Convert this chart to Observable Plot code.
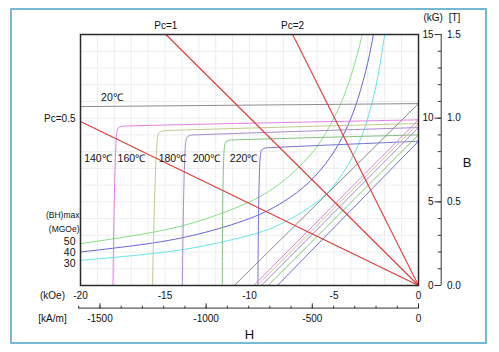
<!DOCTYPE html>
<html><head><meta charset="utf-8">
<script src="https://cdn.jsdelivr.net/npm/d3@7"></script>
<script src="https://cdn.jsdelivr.net/npm/@observablehq/plot@0.6"></script>
<style>body{margin:0;background:#fff;}</style>
</head><body><div id="chart"></div>
<script>
const K = 1000 / (4 * Math.PI); // kA/m per kOe

// ---- data ----
const tempLabels = ["20℃", "140℃", "160℃", "180℃", "200℃", "220℃"];
const brKG = [10.87, 9.90, 9.68, 9.44, 9.00, 8.62];        // B at H = 0
const hcbKOe = [-10.9, -9.75, -9.55, -9.3, -8.9, -8.35];   // normal curve reaches B = 0
const tempLabelH = [-18.14, -18.97, -16.99, -14.56, -12.55, -10.35];
const tempLabelB = [11.25, 7.58, 7.58, 7.58, 7.58, 7.58];

// intrinsic demagnetization curves (H kOe, B kG)
const j20H = [-20, 0];
const j20B = [10.69, 10.87];
const j140H = [-18.08, -17.85, -17.77, -17.55, -17.25, 0];
const j140B = [0, 9.13, 9.40, 9.51, 9.53, 9.90];
const j160H = [-15.74, -15.44, -15.36, -15.14, -14.84, 0];
const j160B = [0, 8.86, 9.13, 9.24, 9.26, 9.68];
const j180H = [-13.97, -13.77, -13.69, -13.47, -13.17, 0];
const j180B = [0, 8.60, 8.87, 8.98, 9.00, 9.44];
const j200H = [-11.61, -11.48, -11.40, -11.18, -10.88, 0];
const j200B = [0, 8.30, 8.57, 8.68, 8.70, 9.00];
const j220H = [-9.50, -9.35, -9.27, -9.05, -8.75, 0];
const j220B = [0, 7.84, 8.11, 8.22, 8.24, 8.62];

// (BH)max contours
const bhLabels = ["50", "40", "30"];
const bhLabelB = [2.62, 1.94, 1.28];
const bhHeader = ["(BH)max", "(MGOe)"];
const bhHeaderB = [4.21, 3.375];
const bh50H = [-20, -16, -13, -10, -8, -6.5, -5.5, -4.6, -4, -3.6, -3.33];
const bh50B = [2.5, 3.13, 3.85, 5, 6.25, 7.69, 9.09, 10.87, 12.5, 13.89, 15];
const bh40H = [-20, -16, -13, -10, -8, -6.5, -5.2, -4.3, -3.6, -3, -2.67];
const bh40B = [2.0, 2.5, 3.08, 4, 5, 6.15, 7.69, 9.3, 11.11, 13.33, 15];
const bh30H = [-20, -16, -13, -10, -8, -6, -4.8, -3.8, -3, -2.4, -2.0];
const bh30B = [1.5, 1.88, 2.31, 3, 3.75, 5, 6.25, 7.89, 10, 12.5, 15];

// load lines (Pc) from origin
const pcLabels = ["Pc=0.5", "Pc=1", "Pc=2"];
const pcEndH = [-20, -14.95, -7.45];
const pcEndB = [9.8, 15, 15];

// axis ticks
const kOeTicks = [-20, -15, -10, -5, 0];
const kGTicks = [0, 5, 10, 15];
const kGMinor = d3.range(0, 16, 1);
const kamMajor = [-1500, -1000, -500, 0];
const kamMinor = d3.range(-1600, 1, 100);

// ---- styles ----
const tempColors = ["#8c8c8c", "#e47fe4", "#bfca8f", "#a888cf", "#80c080", "#7474cc"];
const bhColors = ["#84e084", "#6666d8", "#6ae6e6"];
const red = "#e23a3a";
const axisColor = "#333";
const ink = "#111";

const intr = [[j20H, j20B], [j140H, j140B], [j160H, j160B], [j180H, j180B], [j200H, j200B], [j220H, j220B]];
const bh = [[bh50H, bh50B], [bh40H, bh40B], [bh30H, bh30B]];
const rows = (H, B) => H.map((h, i) => ({h, b: B[i]}));

const marks = [
  Plot.gridX(d3.range(-20, 1, 1), {stroke: "#ededed", strokeOpacity: 1}),
  Plot.gridY(d3.range(0, 16, 1), {stroke: "#ededed", strokeOpacity: 1}),
];
bh.forEach(([H, B], i) => marks.push(Plot.line(rows(H, B), {x: "h", y: "b", stroke: bhColors[i], strokeWidth: 1, curve: "natural"})));
intr.forEach(([H, B], i) => marks.push(Plot.line(rows(H, B), {x: "h", y: "b", stroke: tempColors[i], strokeWidth: 1, curve: i === 0 ? "linear" : "catmull-rom"})));
tempLabels.forEach((t, i) => marks.push(Plot.link([0], {x1: 0, y1: brKG[i], x2: hcbKOe[i], y2: 0, stroke: tempColors[i], strokeWidth: 1})));
marks.push(Plot.link(pcLabels, {x1: 0, y1: 0, x2: (d, i) => pcEndH[i], y2: (d, i) => pcEndB[i], stroke: red, strokeWidth: 1.1}));
marks.push(Plot.frame({stroke: "#2b2b2b", strokeWidth: 1.5}));

// text labels
marks.push(Plot.text(tempLabels, {x: (d, i) => tempLabelH[i], y: (d, i) => tempLabelB[i], text: d => d, fontSize: 10.5, fill: ink}));
marks.push(Plot.text(pcLabels.slice(1), {x: (d, i) => pcEndH[i + 1], y: 15, text: d => d, dy: -9, fontSize: 10, fill: ink}));
marks.push(Plot.text([pcLabels[0]], {x: pcEndH[0], y: pcEndB[0], text: d => d, dx: -5, dy: -3, textAnchor: "end", fontSize: 10, fill: ink}));
marks.push(Plot.text(bhHeader, {x: -20, y: (d, i) => bhHeaderB[i], text: d => d, dx: -1, textAnchor: "end", fontSize: 8.5, fill: ink}));
marks.push(Plot.text(bhLabels, {x: -20, y: (d, i) => bhLabelB[i], text: d => d, dx: -5, textAnchor: "end", fontSize: 10.5, fill: ink}));

// right B axis (kG / T)
marks.push(Plot.ruleX([0], {y1: 0, y2: 15, dx: 22.7, stroke: axisColor}));
marks.push(Plot.axisY(kGMinor, {anchor: "left", tickSize: 3.2, dx: 361, tickFormat: () => "", label: null, stroke: axisColor}));
marks.push(Plot.axisY(kGTicks, {anchor: "left", tickSize: 6.5, tickPadding: 1.5, dx: 361, tickFormat: d => String(d), label: null, stroke: axisColor, fill: ink, fontSize: 10}));
marks.push(Plot.axisY(kGTicks, {anchor: "right", tickSize: 0, tickPadding: 0, dx: 28.5, tickFormat: d => (d / 10).toFixed(1), label: null, fill: ink, fontSize: 10}));
marks.push(Plot.text(["(kG)"], {x: 0, y: 15, text: d => d, dx: 14.7, dy: -17, fontSize: 10, fill: ink}));
marks.push(Plot.text(["[T]"], {x: 0, y: 15, text: d => d, dx: 36, dy: -17, fontSize: 10, fill: ink}));
marks.push(Plot.text(["B"], {x: 0, y: 7.34, text: d => d, dx: 48.7, fontSize: 13, fill: ink}));

// bottom H axes (kOe / kA/m)
marks.push(Plot.axisX(kOeTicks, {anchor: "bottom", tickSize: 0, tickPadding: 6.5, tickFormat: d => String(d), label: null, fill: ink, fontSize: 10}));
marks.push(Plot.ruleY([0], {x1: -1600 / K, x2: 0, dy: 22.6, stroke: axisColor}));
marks.push(Plot.axisX(kamMinor.map(v => v / K), {anchor: "top", tickSize: 2.5, dy: 273.3, tickFormat: () => "", label: null, stroke: axisColor}));
marks.push(Plot.axisX(kamMajor.map(v => v / K), {anchor: "top", tickSize: 5, dy: 273.3, tickFormat: () => "", label: null, stroke: axisColor}));
marks.push(Plot.axisX(kamMajor.map(v => v / K), {anchor: "bottom", tickSize: 0, tickPadding: 3, dy: 26.8, tickFormat: d => String(Math.round(d * K)), label: null, fill: ink, fontSize: 10}));
marks.push(Plot.text(["(kOe)"], {x: -20, y: 0, text: d => d, dx: -28, dy: 10.5, fontSize: 10, fill: ink}));
marks.push(Plot.text(["[kA/m]"], {x: -20, y: 0, text: d => d, dx: -28, dy: 33.6, fontSize: 10, fill: ink}));
marks.push(Plot.text(["H"], {x: -10, y: 0, text: d => d, dy: 49.5, fontSize: 13, fill: ink}));

const svg = Plot.plot({
  width: 499, height: 352,
  marginLeft: 80, marginRight: 81, marginTop: 34, marginBottom: 67,
  x: {domain: [-20, 0], axis: null},
  y: {domain: [0, 15], axis: null},
  style: {fontFamily: "'Liberation Sans', Arial, sans-serif", fontSize: "10px", color: ink, background: "white", overflow: "visible"},
  marks
});

// outer decorative border of the figure
d3.select(svg).append("rect")
  .attr("x", 11).attr("y", 9).attr("width", 475).attr("height", 334)
  .attr("fill", "none").attr("stroke", "#4aa3c4").attr("stroke-width", 1.5);

document.getElementById("chart").appendChild(svg);
</script></body></html>
